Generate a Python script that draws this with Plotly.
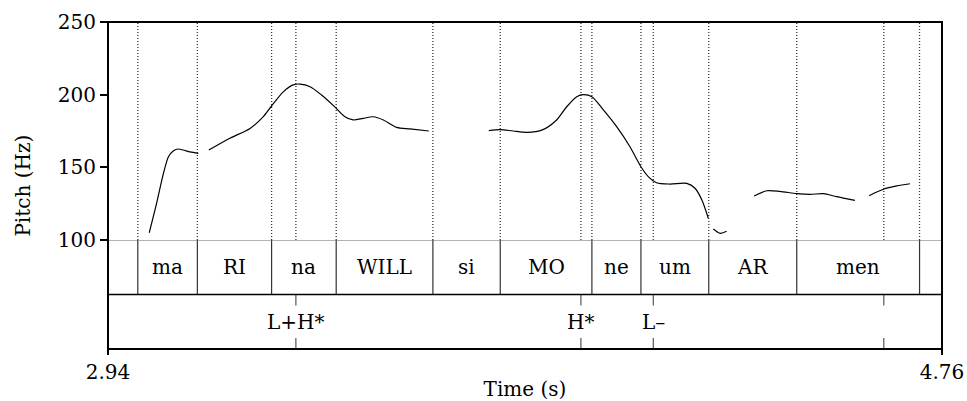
import plotly.graph_objects as go

# ---------------- data ----------------
t_start, t_end = 2.94, 4.76
pitch_ticks = [100, 150, 200, 250]

syl_bounds = [3.005, 3.135, 3.297, 3.438, 3.649, 3.796, 3.996, 4.103, 4.251, 4.443, 4.711]
syl_labels = ["", "ma", "RI", "na", "WILL", "si", "MO", "ne", "um", "AR", "men", ""]

tone_times = [3.350, 3.972, 4.130, 4.633]
tone_labels = ["L+H*", "H*", "L–", ""]

seg1_t = [3.030, 3.046, 3.061, 3.072, 3.083, 3.093, 3.104, 3.119, 3.137]
seg1_f = [105.0, 125.2, 145.9, 157.3, 161.4, 162.6, 161.9, 160.6, 159.6]

seg2_t = [3.160, 3.206, 3.250, 3.279, 3.297, 3.323, 3.344, 3.359, 3.381, 3.406, 3.432,
          3.457, 3.475, 3.497, 3.519, 3.541, 3.570, 3.599, 3.640]
seg2_f = [161.9, 170.0, 176.8, 184.9, 192.2, 202.1, 206.7, 207.3, 205.5, 199.8, 192.5,
          184.8, 182.6, 183.7, 184.8, 182.6, 177.5, 176.4, 175.0]

seg3_t = [3.771, 3.796, 3.824, 3.854, 3.888, 3.919, 3.941, 3.963, 3.977, 3.996, 4.021,
          4.050, 4.079, 4.103, 4.119, 4.137, 4.166, 4.203, 4.221, 4.236, 4.250]
seg3_f = [175.2, 175.9, 175.0, 174.1, 175.8, 182.6, 191.7, 198.6, 200.0, 198.6, 189.5,
          178.0, 164.2, 150.4, 143.6, 139.4, 138.5, 139.0, 135.6, 127.5, 115.0]

seg4_t = [4.261, 4.276, 4.290]
seg4_f = [107.6, 104.6, 106.0]

seg5_t = [4.350, 4.378, 4.406, 4.443, 4.472, 4.501, 4.530, 4.570]
seg5_f = [130.3, 133.9, 133.5, 131.9, 131.4, 131.9, 129.8, 127.3]

seg6_t = [4.601, 4.632, 4.661, 4.690]
seg6_f = [130.5, 134.9, 137.2, 138.7]

segments = [(seg1_t, seg1_f), (seg2_t, seg2_f), (seg3_t, seg3_f),
            (seg4_t, seg4_f), (seg5_t, seg5_f), (seg6_t, seg6_f)]

# ---------------- figure ----------------
FONT = "DejaVu Serif"
FS = 20

fig = go.Figure()
for st, sf in segments:
    fig.add_trace(go.Scatter(x=st, y=sf, mode="lines", xaxis="x", yaxis="y",
                             line=dict(color="black", width=1.2, shape="spline", smoothing=0.8),
                             hoverinfo="skip", showlegend=False))

shapes = []
dot_line = dict(color="#333", width=1.3, dash="1px,2px")
for b in syl_bounds + tone_times:
    shapes.append(dict(type="line", xref="x", yref="y", x0=b, x1=b, y0=100, y1=250,
                       line=dot_line, layer="below"))
for b in syl_bounds:
    shapes.append(dict(type="line", xref="x", yref="y2", x0=b, x1=b, y0=1, y1=2,
                       line=dict(color="#333", width=1.2)))
for p in tone_times:
    shapes.append(dict(type="line", xref="x", yref="y2", x0=p, x1=p, y0=0.8, y1=1,
                       line=dict(color="#555", width=1.2)))
    shapes.append(dict(type="line", xref="x", yref="y2", x0=p, x1=p, y0=0, y1=0.2,
                       line=dict(color="#555", width=1.2)))
shapes.append(dict(type="line", xref="paper", yref="y2", x0=0, x1=1, y0=2, y1=2,
                   line=dict(color="#666", width=1.2)))
shapes.append(dict(type="line", xref="paper", yref="y2", x0=0, x1=1, y0=1, y1=1,
                   line=dict(color="black", width=1.5)))
shapes.append(dict(type="rect", xref="paper", yref="paper", x0=0, x1=1, y0=0, y1=1,
                   line=dict(color="black", width=2)))

annotations = []
edges = [t_start] + syl_bounds + [t_end]
for i, lab in enumerate(syl_labels):
    if lab:
        annotations.append(dict(x=(edges[i] + edges[i + 1]) / 2, y=1.5, xref="x", yref="y2",
                                text=lab, showarrow=False,
                                font=dict(family=FONT, size=FS, color="black")))
for p, lab in zip(tone_times, tone_labels):
    if lab:
        annotations.append(dict(x=p, y=0.5, xref="x", yref="y2", text=lab, showarrow=False,
                                font=dict(family=FONT, size=FS, color="black")))
annotations.append(dict(x=-0.103, y=0.5, xref="paper", yref="paper", text="Pitch (Hz)",
                        textangle=-90, showarrow=False, xanchor="center", yanchor="middle",
                        font=dict(family=FONT, size=FS, color="black")))

fig.update_layout(
    width=967, height=401,
    margin=dict(l=108, r=25, t=22, b=52, autoexpand=False),
    paper_bgcolor="white", plot_bgcolor="white",
    font=dict(family=FONT, size=FS, color="black"),
    xaxis=dict(range=[t_start, t_end], domain=[0, 1], anchor="y2",
               tickvals=[t_start, t_end], ticktext=["%.2f" % t_start, "%.2f" % t_end],
               ticks="outside", ticklen=5, tickwidth=1.5, tickcolor="black",
               showgrid=False, zeroline=False, showline=False, automargin=False,
               title=dict(text="Time (s)", standoff=11, font=dict(family=FONT, size=FS))),
    yaxis=dict(range=[100, 250], domain=[1/3, 1], anchor="x", automargin=False,
               tickvals=pitch_ticks, ticks="outside", ticklen=7, tickwidth=1.5,
               tickcolor="black", showgrid=False, zeroline=False, showline=False),
    yaxis2=dict(range=[0, 2], domain=[0, 1/3], anchor="x", visible=False),
    shapes=shapes, annotations=annotations,
)

fig.write_html("out.html", config={"displayModeBar": False},
               post_script="document.body.style.margin='0';")
